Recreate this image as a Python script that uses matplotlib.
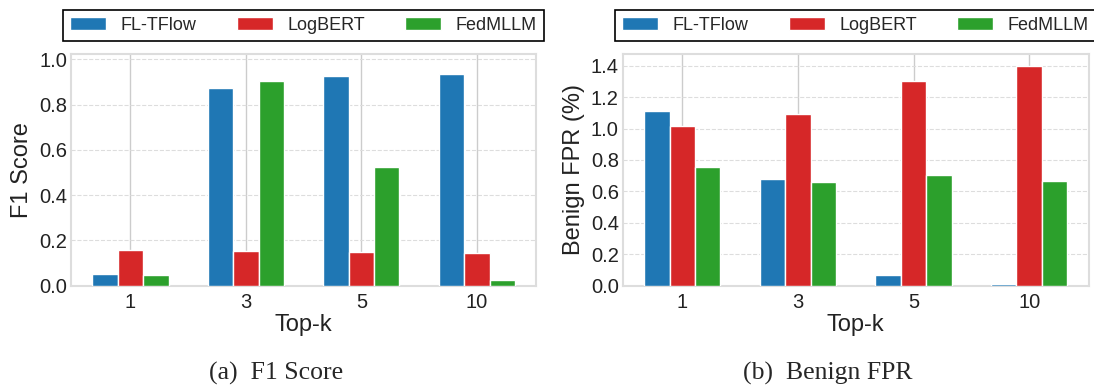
import matplotlib
matplotlib.use('Agg')
import matplotlib.pyplot as plt
import numpy as np

# Values
topk = ['1', '3', '5', '10']
methods = ['FL-TFlow', 'LogBERT', 'FedMLLM']
colors = ['#1f77b4', '#d62728', '#2ca02c']

f1_fltflow = [0.052, 0.872, 0.928, 0.935]
f1_logbert = [0.156, 0.153, 0.147, 0.144]
f1_fedmllm = [0.046, 0.904, 0.523, 0.024]

fpr_fltflow = [1.112, 0.677, 0.068, 0.008]
fpr_logbert = [1.014, 1.093, 1.303, 1.396]
fpr_fedmllm = [0.755, 0.658, 0.702, 0.664]

plt.style.use('seaborn-v0_8-whitegrid')
plt.rcParams['font.family'] = ['Liberation Sans', 'DejaVu Sans']

fig = plt.figure(figsize=(10.94, 3.87), dpi=100)
ax1 = fig.add_axes([0.0651, 0.2618, 0.4249, 0.598])
ax2 = fig.add_axes([0.5694, 0.2618, 0.4256, 0.598])

x = np.arange(len(topk))
w = 0.22


def draw(ax, series, ylabel, ylim, yticks):
    for i, (vals, name, c) in enumerate(zip(series, methods, colors)):
        ax.bar(x + (i - 1) * w, vals, w, color=c, edgecolor='white',
               linewidth=1.0, label=name, zorder=3)
    ax.set_xticks(x)
    ax.set_xticklabels(topk)
    ax.set_ylim(*ylim)
    ax.set_yticks(yticks)
    ax.set_yticklabels([f'{t:.1f}' for t in yticks])
    ax.tick_params(axis='both', labelsize=14.5, length=0, colors='#222222')
    ax.tick_params(axis='y', pad=3)
    ax.tick_params(axis='x', pad=5)
    ax.set_xlabel('Top-k', fontsize=17, labelpad=2, color='#222222')
    ax.set_ylabel(ylabel, fontsize=17, labelpad=4, color='#222222')
    ax.xaxis.grid(True, color='#cccccc', linestyle='-', linewidth=1.0)
    ax.yaxis.grid(True, color='#dddddd', linestyle='--', linewidth=0.8)
    ax.set_axisbelow(True)
    for s in ax.spines.values():
        s.set_color('#dddddd')
        s.set_linewidth(1.5)
    leg = ax.legend(loc='lower left', bbox_to_anchor=(-0.0174, 1.056, 1.034, 0.14),
                    mode='expand', ncol=3, fontsize=13, frameon=True,
                    fancybox=False, handlelength=2.0, handleheight=0.7,
                    handletextpad=0.8, borderpad=0.4, borderaxespad=0)
    leg.get_frame().set_edgecolor('black')
    leg.get_frame().set_linewidth(1.2)
    leg.get_frame().set_alpha(1)


draw(ax1, [f1_fltflow, f1_logbert, f1_fedmllm], 'F1 Score', (0, 1.022),
     [0.0, 0.2, 0.4, 0.6, 0.8, 1.0])
draw(ax2, [fpr_fltflow, fpr_logbert, fpr_fedmllm], 'Benign FPR (%)', (0, 1.473),
     [0.0, 0.2, 0.4, 0.6, 0.8, 1.0, 1.2, 1.4])

# sub-captions
fig.text(0.2523, 0.036, '(a)  F1 Score', ha='center', va='center', fontsize=18.5,
         family='Liberation Serif')
fig.text(0.7564, 0.036, '(b)  Benign FPR', ha='center', va='center', fontsize=18.5,
         family='Liberation Serif')

fig.savefig('out.png', dpi=100)
